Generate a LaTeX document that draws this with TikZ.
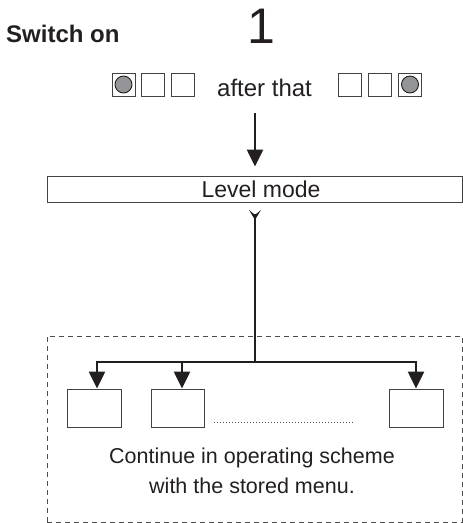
\documentclass[tikz,border=0pt]{standalone}
\usepackage{fontspec}
\setmainfont{Liberation Sans}
\usetikzlibrary{arrows.meta}
\definecolor{ink}{HTML}{231F20}
\definecolor{led}{HTML}{939598}
\begin{document}
\begin{tikzpicture}[x=1pt,y=-1pt,
  every node/.style={text=ink},
  sq/.style={draw=ink!85,line width=0.9pt,minimum size=23pt,inner sep=0pt},
  ledon/.style={draw=ink,line width=0.9pt,fill=led},
  thinbox/.style={draw=ink!85,line width=0.9pt,inner sep=0pt},
  thickline/.style={draw=ink,line width=2.4pt},
  thickarrow/.style={thickline,-{Triangle[length=17pt,width=16pt]}},
  dashframe/.style={draw=ink!80,line width=0.9pt,dash pattern=on 5pt off 4pt,inner sep=0pt},
  dotline/.style={draw=ink!80,line width=0.8pt,dash pattern=on 0.8pt off 2.2pt}
]
\useasboundingbox (0,0) rectangle (463,523);

% titles
\node[anchor=base west,inner sep=0pt,font=\fontsize{24}{28}\selectfont\bfseries] (sw) at (6,42) {Switch on};
\node[anchor=base,inner sep=0pt,font=\fontsize{50}{56}\selectfont] (one) at (261.5,43) {1};

% indicator squares
\node[sq] (s1) at (123.5,84.5) {};
\node[sq] (s2) at (153,84.5) {};
\node[sq] (s3) at (183,84.5) {};
\node[anchor=base west,inner sep=0pt,font=\fontsize{24}{28}\selectfont] (after) at (217,96) {after that};
\node[sq] (s4) at (350,84.5) {};
\node[sq] (s5) at (380,84.5) {};
\node[sq] (s6) at (410,84.5) {};
\path[ledon] (s1.center) circle (8.5pt);
\path[ledon] (s6.center) circle (8.5pt);

% level mode box
\node[thinbox,minimum width=415pt,minimum height=26pt,font=\fontsize{23}{26}\selectfont] (lvl) at (255,189) {\hspace*{12pt}Level mode};

\coordinate (a0) at (255,113);
\draw[thickarrow] (a0) -- ([yshift=9pt]lvl.north);

% tail chevron and trunk
\coordinate (c0) at ([yshift=-7.5pt]lvl.south);
\fill[ink] (c0) ++(-6,0) -- ++(6,5) -- ++(6,-5) -- ++(-6,10) -- cycle;
\coordinate (j) at (255,362);
\draw[thickline] ([yshift=-12pt]lvl.south) -- (j);

% dashed frame
\node[dashframe,minimum width=415pt,minimum height=186pt] (frame) at (254.5,429) {};

% target boxes
\node[thinbox,minimum width=54pt,minimum height=38pt] (b1) at (94,408) {};
\node[thinbox,minimum width=53pt,minimum height=38pt] (b2) at (177.5,408) {};
\node[thinbox,minimum width=54pt,minimum height=38pt] (b3) at (416,408) {};

\coordinate (jl) at (97,362);
\coordinate (jm) at (182,362);
\coordinate (jr) at (416,362);
\draw[thickline,line cap=rect] (jl) -- (jr);
\draw[thickarrow] (jl) -- (jl |- b1.north);
\draw[thickarrow] (jm) -- (jm |- b2.north);
\draw[thickarrow] (jr) -- (jr |- b3.north);

\draw[dotline] ([xshift=10pt,yshift=5pt]b2.south east) -- ([xshift=-34pt,yshift=5pt]b3.south west);

\node[anchor=north,inner sep=0pt,align=center,font=\fontsize{21.5}{30}\selectfont] (txt) at (252,447.5) {Continue in operating scheme\\with the stored menu.};
\end{tikzpicture}
\end{document}
